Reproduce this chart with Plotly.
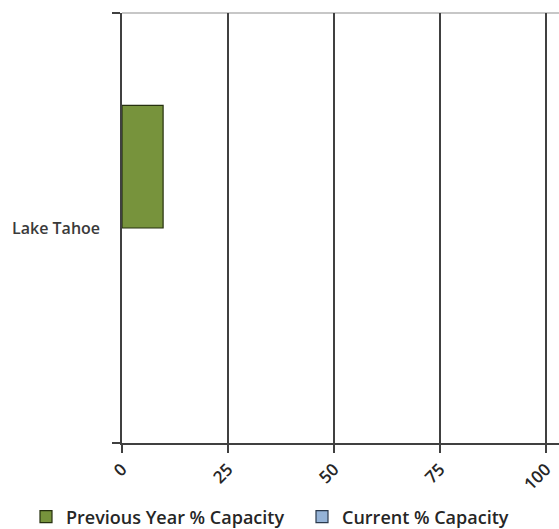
import plotly.graph_objects as go

# Reservoir storage as a percentage of capacity
lakes = ["Lake Tahoe"]
previous_year_pct = [9.7]
current_pct = [None]
x_ticks = [0, 25, 50, 75, 100]

font_family = "'Open Sans', Lato, sans-serif"
axis_color = "#404040"
text_color = "#262626"
W, H = 559, 529

fig = go.Figure()
fig.add_trace(go.Bar(
    y=lakes, x=previous_year_pct, orientation="h",
    name="Previous Year % Capacity", legend="legend",
    marker=dict(color="#77933C", line=dict(color="#26300f", width=1.2)),
))
fig.add_trace(go.Bar(
    y=lakes, x=current_pct, orientation="h",
    name="Current % Capacity", legend="legend2",
    marker=dict(color="#95B3D7", line=dict(color="#2b3a4d", width=1.2)),
))

legend_style = dict(
    orientation="h", xref="container", xanchor="left",
    yref="container", y=1 - 517 / H, yanchor="middle",
    font=dict(size=18, color=text_color, weight=600),
    itemwidth=30, bgcolor="rgba(0,0,0,0)",
)

fig.update_layout(
    width=W, height=H,
    margin=dict(l=122, r=0, t=13, b=86, autoexpand=False),
    paper_bgcolor="white", plot_bgcolor="white",
    barmode="group", bargap=0.43, bargroupgap=0,
    font=dict(family=font_family, color=text_color, size=15),
    showlegend=True,
    legend=dict(x=26 / W, **legend_style),
    legend2=dict(x=302 / W, **legend_style),
    xaxis=dict(
        range=[0, 103.1], tickmode="array", tickvals=x_ticks,
        ticktext=[str(v) for v in x_ticks], tickangle=-45,
        showgrid=True, gridcolor=axis_color, gridwidth=1.5,
        zeroline=False, showline=True, linecolor=axis_color, linewidth=1.5,
        ticks="outside", ticklen=8, tickwidth=1.5, tickcolor=axis_color,
        tickfont=dict(size=17, color=text_color, weight=600), fixedrange=True,
    ),
    yaxis=dict(
        autorange="reversed", showgrid=False, zeroline=False,
        showline=True, linecolor=axis_color, linewidth=1.5,
        ticks="outside", ticklen=8, tickwidth=1.5, tickcolor=axis_color,
        tickson="boundaries", ticklabelstandoff=17,
        tickfont=dict(size=16, color="#3a3a3a", weight=600),
        fixedrange=True,
    ),
    shapes=[dict(
        type="line", xref="paper", yref="paper", x0=0, x1=1, y0=1, y1=1,
        line=dict(color="#b4b4b4", width=1.5), layer="below",
    )],
)

fig.write_html("out.html")
